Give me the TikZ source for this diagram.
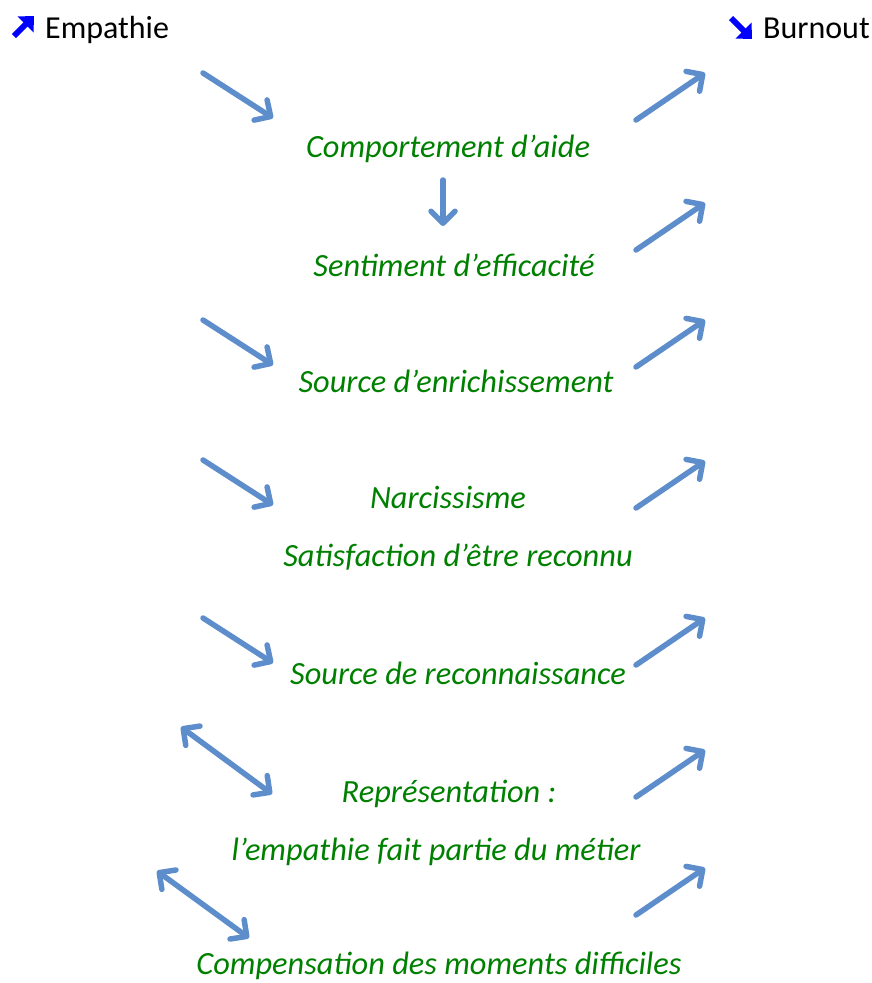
\documentclass[tikz,border=0pt]{standalone}
\usepackage{fontspec}
\setmainfont{Carlito}
\usetikzlibrary{arrows.meta}

\definecolor{linkblue}{RGB}{94,141,203}
\definecolor{factorgreen}{RGB}{0,128,0}
\definecolor{iconblue}{RGB}{0,0,255}

\begin{document}
\begin{tikzpicture}[x=1pt, y=-1pt]
\tikzstyle{factor}=[text=factorgreen, font=\fontsize{32.4}{38}\selectfont\itshape, anchor=base, inner sep=0pt]
\tikzstyle{pole}=[font=\fontsize{32}{38}\selectfont, anchor=base west, inner sep=0pt]
\tikzstyle{link}=[linkblue, line width=5.5pt, line cap=round, -{Straight Barb[length=12pt, width=24pt, line cap=round, line join=round]}]
\tikzstyle{bilink}=[link, {Straight Barb[length=12pt, width=24pt, line cap=round, line join=round]}-{Straight Barb[length=12pt, width=24pt, line cap=round, line join=round]}]
\tikzstyle{icon}=[iconblue, line width=6pt, -{Triangle[length=12pt, width=22pt]}]
  \useasboundingbox (0,0) rectangle (872,983);
  % poles
  \node[pole] (empathie) at (45,38) {Empathie};
  \node[pole] (burnout) at (763,38) {Burnout};
  \coordinate (up0) at (14,36);
  \coordinate (up1) at (34,16);
  \coordinate (dn0) at (731,18);
  \coordinate (dn1) at (752,39);
  \draw[icon] (up0) -- (up1);
  \draw[icon] (dn0) -- (dn1);
  % factors
  \node[factor] (aide) at (448,157) {Comportement d’aide};
  \node[factor] (efficacite) at (454,276) {Sentiment d’efficacité};
  \node[factor] (enrichissement) at (456,392) {Source d’enrichissement};
  \node[factor] (narcissisme) at (448,508) {Narcissisme};
  \node[factor] (satisfaction) at (458,566) {Satisfaction d’être reconnu};
  \node[factor] (reconnaissance) at (458,684) {Source de reconnaissance};
  \node[factor] (representation) at (449,802) {Représentation :};
  \node[factor] (metier) at (436,860) {l’empathie fait partie du métier};
  \node[factor] (compensation) at (439,974) {Compensation des moments difficiles};
  % empathy side
  \foreach \y [count=\i] in {73,320,460,618} {
    \coordinate (ls\i) at (203,\y);
    \coordinate (le\i) at (273,\y+45);
    \draw[link] (ls\i) -- (le\i);
  }
  \coordinate (ds1) at (181,727);
  \coordinate (de1) at (272,794);
  \coordinate (ds2) at (157,871);
  \coordinate (de2) at (249,938);
  \draw[bilink] (ds1) -- (de1);
  \draw[bilink] (ds2) -- (de2);
  \coordinate (vs) at (443,180);
  \coordinate (ve) at (443,226);
  \draw[link] (vs) -- (ve);
  % burnout side
  \foreach \y [count=\i] in {120,250,367,508,665,797,915} {
    \coordinate (rs\i) at (636,\y);
    \coordinate (re\i) at (705,\y-47);
    \draw[link] (rs\i) -- (re\i);
  }
\end{tikzpicture}
\end{document}
